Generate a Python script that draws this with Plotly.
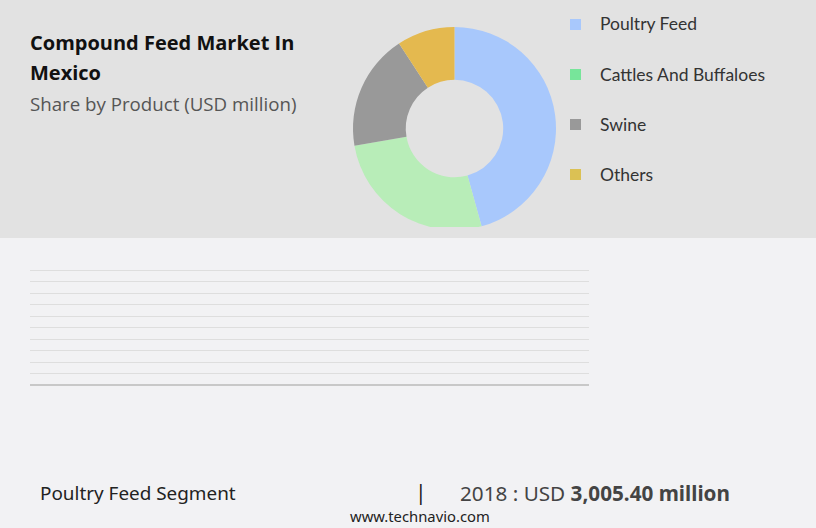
import plotly.graph_objects as go

# data
products = ["Poultry Feed", "Cattles And Buffaloes", "Swine", "Others"]
shares = [45.7, 26.6, 18.5, 9.2]
slice_colors = ["#a8c8fc", "#b8edb8", "#999999", "#e4b94f"]
legend_colors = ["#a8c8fc", "#77e59a", "#999999", "#dbc154"]
grid_levels = list(range(0, 11))

W, H = 816, 528


def px(x):
    return x / W


def py(y):
    return 1 - y / H


fig = go.Figure()

# donut
fig.add_trace(go.Pie(labels=products, values=shares, hole=0.48,
                     sort=False, direction="clockwise", rotation=0,
                     marker=dict(colors=slice_colors, line=dict(width=0)),
                     textinfo="none", hoverinfo="label+value",
                     showlegend=False,
                     domain=dict(x=[px(353), px(556)], y=[py(230), py(27)])))

# empty lower plot, only gridlines
fig.add_trace(go.Scatter(x=[0, 1], y=[None, None], mode="lines",
                         showlegend=False, hoverinfo="skip"))

fig.update_layout(
    width=W, height=H, margin=dict(l=0, r=0, t=0, b=0),
    paper_bgcolor="#f2f2f4", plot_bgcolor="rgba(0,0,0,0)",
    xaxis=dict(domain=[px(30), px(589)], range=[0, 1], showgrid=False,
               showticklabels=False, zeroline=False, showline=False, fixedrange=True),
    yaxis=dict(domain=[py(385), py(264.3)], range=[0, 10.5], tickvals=grid_levels,
               gridcolor="#dedede", gridwidth=1, showticklabels=False,
               zeroline=True, zerolinecolor="#c8c8c8", zerolinewidth=1.5,
               showline=False, fixedrange=True),
)

shapes = []
# top gray panel
shapes.append(dict(type="rect", xref="paper", yref="paper", layer="below",
                   x0=0, x1=1, y0=py(238), y1=1, fillcolor="#e2e2e2", line_width=0))
# cut the bottom of the donut
shapes.append(dict(type="rect", xref="paper", yref="paper", layer="above",
                   x0=px(340), x1=px(570), y0=py(238), y1=py(227),
                   fillcolor="#e2e2e2", line_width=0))

annotations = []
for i, (name, c) in enumerate(zip(products, legend_colors)):
    yc = 24 + 50 * i
    shapes.append(dict(type="rect", xref="paper", yref="paper",
                       x0=px(570), x1=px(581), y0=py(yc + 6), y1=py(yc - 5),
                       fillcolor=c, line_width=0))
    annotations.append(dict(text=name, x=px(598), y=py(yc), xref="paper", yref="paper",
                            xanchor="left", yanchor="middle", showarrow=False,
                            font=dict(family="Lato", size=17.5, color="#333333")))

annotations += [
    dict(text="<b>Compound Feed Market In</b>", x=px(28), y=py(43),
         xref="paper", yref="paper", xanchor="left", yanchor="middle",
         showarrow=False, font=dict(family="Open Sans", size=20, color="#111111")),
    dict(text="<b>Mexico</b>", x=px(28), y=py(73),
         xref="paper", yref="paper", xanchor="left", yanchor="middle",
         showarrow=False, font=dict(family="Open Sans", size=20, color="#111111")),
    dict(text="Share by Product (USD million)", x=px(28), y=py(103),
         xref="paper", yref="paper", xanchor="left", yanchor="middle",
         showarrow=False, font=dict(family="Open Sans", size=18.7, color="#555555")),
    dict(text="Poultry Feed Segment", x=px(38), y=py(493), xref="paper", yref="paper",
         xanchor="left", yanchor="middle", showarrow=False,
         font=dict(family="Noto Sans", size=18.9, color="#222222")),
    dict(text="|", x=px(421), y=py(492), xref="paper", yref="paper",
         xanchor="center", yanchor="middle", showarrow=False,
         font=dict(family="Noto Sans", size=21, color="#222222")),
    dict(text="2018 : USD <b>3,005.40 million</b>", x=px(458), y=py(493),
         xref="paper", yref="paper", xanchor="left", yanchor="middle",
         showarrow=False, font=dict(family="Noto Sans", size=20.7, color="#444444")),
    dict(text="www.technavio.com", x=px(420), y=py(516), xref="paper", yref="paper",
         xanchor="center", yanchor="middle", showarrow=False,
         font=dict(family="Noto Sans", size=14.8, color="#222222")),
]

fig.update_layout(shapes=shapes, annotations=annotations)
fig.write_html("out.html", config={"displayModeBar": False},
               post_script="document.body.style.margin='0';")
